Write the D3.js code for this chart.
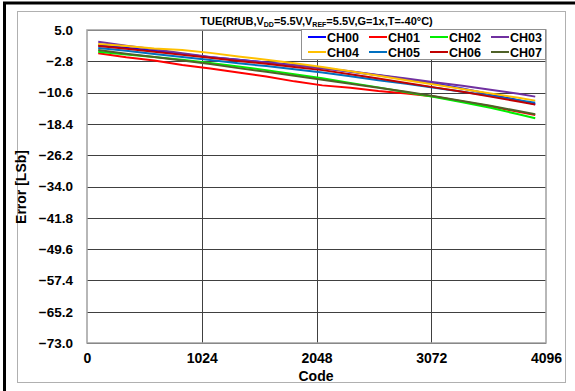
<!DOCTYPE html>
<html><head><meta charset="utf-8">
<script src="https://cdn.jsdelivr.net/npm/d3@7"></script>
<style>body{margin:0;background:#fff}svg{display:block}text{font-family:"Liberation Sans",Arial,sans-serif;font-weight:bold;fill:#000}</style>
</head><body><svg id="c" width="575" height="391"></svg>
<script>
const codes = [100, 350, 600, 850, 1100, 1350, 1600, 1850, 2100, 2350, 2600, 2850, 3100, 3350, 3600, 3850, 4000];
const CH00 = [1.3, 0.6, -0.2, -1.0, -1.8, -2.4, -3.1, -3.7, -4.4, -5.4, -6.3, -7.3, -8.3, -9.6, -11.0, -12.5, -13.5];
const CH01 = [-0.8, -1.8, -2.6, -3.7, -4.6, -5.6, -6.6, -7.8, -8.8, -9.4, -10.2, -10.8, -11.6, -12.8, -14.0, -15.4, -16.2];
const CH02 = [-0.4, -1.1, -1.7, -2.4, -3.2, -4.1, -5.0, -6.0, -7.0, -8.2, -9.3, -10.5, -11.7, -13.0, -14.4, -16.0, -17.0];
const CH03 = [2.1, 1.1, 0.2, -0.8, -1.7, -2.4, -3.1, -3.8, -4.6, -5.3, -6.2, -7.1, -8.0, -8.9, -9.9, -10.9, -11.6];
const CH04 = [1.5, 1.0, 0.4, 0.0, -0.7, -1.6, -2.4, -3.3, -4.2, -5.3, -6.4, -7.5, -8.6, -9.7, -10.8, -11.9, -12.6];
const CH05 = [0.5, -0.2, -1.0, -1.7, -2.5, -3.3, -4.0, -4.8, -5.6, -6.5, -7.5, -8.4, -9.4, -10.4, -11.4, -12.5, -13.1];
const CH06 = [1.0, 0.3, -0.4, -1.2, -1.9, -2.7, -3.4, -4.2, -5.0, -6.0, -7.1, -8.2, -9.3, -10.4, -11.6, -12.8, -13.6];
const CH07 = [0.0, -0.9, -1.7, -2.6, -3.5, -4.5, -5.4, -6.4, -7.4, -8.4, -9.4, -10.4, -11.5, -12.7, -13.9, -15.2, -16.0];
const seriesNames = ["CH00","CH01","CH02","CH03","CH04","CH05","CH06","CH07"];
const seriesValues = [CH00, CH01, CH02, CH03, CH04, CH05, CH06, CH07];
const seriesColors = ["#0000FF","#FF0000","#00EE00","#7030A0","#FFC000","#0070C0","#C00000","#4F6228"];
const yTicks = [5.0, -2.8, -10.6, -18.4, -26.2, -34.0, -41.8, -49.6, -57.4, -65.2, -73.0];
const xTicks = [0, 1024, 2048, 3072, 4096];

const svg = d3.select("#c");
svg.append("rect").attr("x",4.5).attr("y",3).attr("width",700).attr("height",500)
  .attr("fill","none").attr("stroke","#000").attr("stroke-width",3);
svg.append("rect").attr("x",17.5).attr("y",11.5).attr("width",548).attr("height",371)
  .attr("fill","#fff").attr("stroke","#b0b0b0").attr("stroke-width",1);

const L=87, R=546, T=30, B=343;
const x = d3.scaleLinear().domain([0,4096]).range([L,R]);
const y = d3.scaleLinear().domain([-73,5]).range([B,T]);

const g = svg.append("g");
g.selectAll(".hg").data(yTicks).join("line")
  .attr("x1",L).attr("x2",R).attr("y1",d=>Math.round(y(d))+0.5).attr("y2",d=>Math.round(y(d))+0.5)
  .attr("stroke","#404040").attr("stroke-width",1);
g.selectAll(".vg").data(xTicks.slice(1,-1)).join("line")
  .attr("y1",T).attr("y2",B).attr("x1",d=>Math.round(x(d))+0.5).attr("x2",d=>Math.round(x(d))+0.5)
  .attr("stroke","#404040").attr("stroke-width",1);
svg.append("rect").attr("x",L).attr("y",T).attr("width",R-L).attr("height",B-T)
  .attr("fill","none").attr("stroke","#a0a0a0").attr("stroke-width",1.5);

const yAxis = svg.append("g").attr("transform",`translate(${L},0)`)
  .call(d3.axisLeft(y).tickValues(yTicks).tickFormat(d3.format(".1f")).tickSize(0).tickPadding(14));
yAxis.select(".domain").remove();
yAxis.selectAll("text").attr("font-size",13.5).attr("font-family","Liberation Sans, Arial").attr("font-weight","bold").attr("fill","#000");
const xAxis = svg.append("g").attr("transform",`translate(0,${B})`)
  .call(d3.axisBottom(x).tickValues(xTicks).tickFormat(d3.format("d")).tickSize(0).tickPadding(10));
xAxis.select(".domain").remove();
xAxis.selectAll("text").attr("font-size",14).attr("font-family","Liberation Sans, Arial").attr("font-weight","bold").attr("fill","#000");

svg.append("text").attr("x",316).attr("y",381).attr("text-anchor","middle").attr("font-size",14).text("Code");
svg.append("text").attr("transform","translate(26,187) rotate(-90)").attr("text-anchor","middle").attr("font-size",14).text("Error [LSb]");

const t = svg.append("text").attr("x",316.5).attr("y",25).attr("text-anchor","middle").attr("font-size",11);
t.append("tspan").text("TUE(RfUB,V");
t.append("tspan").attr("font-size",7).attr("dy",2).text("DD");
t.append("tspan").attr("dy",-2).text("=5.5V,V");
t.append("tspan").attr("font-size",7).attr("dy",2).text("REF");
t.append("tspan").attr("dy",-2).text("=5.5V,G=1x,T=-40°C)");

const line = d3.line().x((d,i)=>x(codes[i])).y(d=>y(d));
svg.append("g").selectAll("path").data(seriesValues).join("path")
  .attr("d",line).attr("fill","none").attr("stroke",(d,i)=>seriesColors[i]).attr("stroke-width",2);

const lg = svg.append("g");
lg.append("rect").attr("x",301.5).attr("y",29.5).attr("width",244).attr("height",30)
  .attr("fill","#fff").attr("stroke","#909090");
seriesNames.forEach((n,i)=>{
  const col=i%4,row=Math.floor(i/4);
  const lx=308+col*61, ly=37+row*15;
  lg.append("line").attr("x1",lx).attr("x2",lx+18).attr("y1",ly).attr("y2",ly).attr("stroke",seriesColors[i]).attr("stroke-width",2);
  lg.append("text").attr("x",lx+19).attr("y",ly+4.5).attr("font-size",12.5).text(n);
});
</script></body></html>
